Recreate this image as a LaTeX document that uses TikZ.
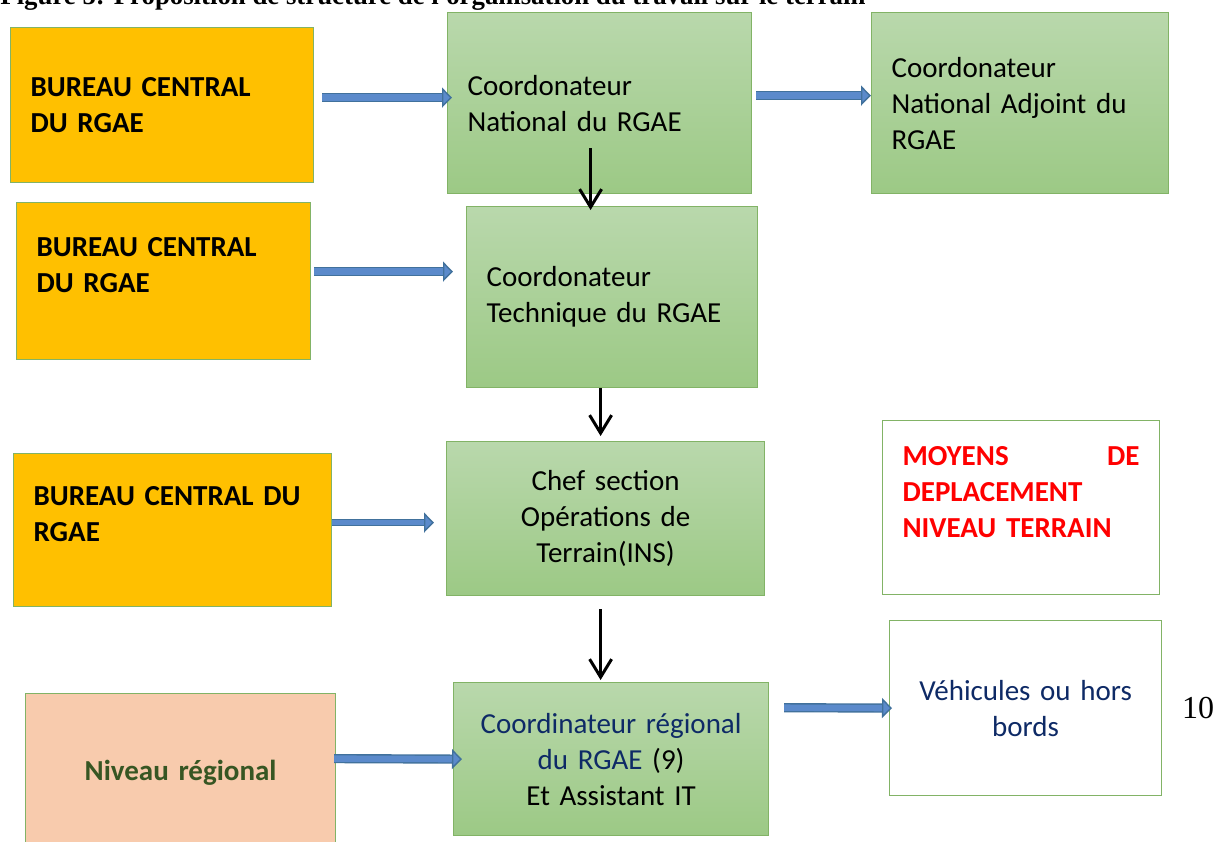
\documentclass[tikz,border=0pt]{standalone}
\usepackage{fontspec}
\setmainfont{Carlito}
\newfontfamily\timesfont{Liberation Serif}
\usetikzlibrary{positioning, arrows.meta}
\definecolor{boxEdge}{HTML}{82B366}
\definecolor{greenTop}{HTML}{B9D8AC}
\definecolor{greenBottom}{HTML}{9CC985}
\definecolor{bureauOrange}{HTML}{FFC000}
\definecolor{regionPeach}{HTML}{F8CBAD}
\definecolor{darkGreenText}{HTML}{375623}
\definecolor{darkBlueText}{HTML}{0E2A66}
\definecolor{blueFill}{HTML}{5B8ACB}
\definecolor{blueEdge}{HTML}{41719C}
\tikzstyle{boxbase} =[draw=boxEdge, line width=0.6pt, anchor=north west, inner xsep=10pt, inner ysep=0pt, font=\fontsize{14.5}{18}\selectfont]
\tikzstyle{greenbox} =[boxbase, top color=greenTop, bottom color=greenBottom]
\tikzstyle{bureaubox} =[boxbase, fill=bureauOrange, align=left, font=\fontsize{14.5}{18}\selectfont\bfseries]
\tikzstyle{whitebox} =[boxbase, fill=white]
\tikzstyle{blueArrow} =[draw=blueEdge, double=blueFill, line width=0.7pt, double distance=3.2pt, -{Triangle[length=5pt, width=10pt, fill=blueFill]}]
\tikzstyle{downArrow} =[line width=1.5pt, black, -{Straight Barb[length=9pt, width=11pt]}]

\begin{document}
\begin{tikzpicture}[x=0.5pt, y=-0.5pt]
\fill[white] (0,0) rectangle (1225,841);
\useasboundingbox (0,0) rectangle (1225,841);

\node (figTitle) [anchor=base west, inner sep=0pt, font=\timesfont\bfseries\fontsize{13.4}{16}\selectfont] at (0,4) {Figure 5: Proposition de structure de l'organisation du travail sur le terrain};

% first row
\node (bureauOne) [bureaubox, text width=131.5pt, minimum height=77.5pt] at (10,27) {BUREAU CENTRAL\\DU RGAE};
\node (coordNat) [greenbox, align=left, text width=132pt, minimum height=90.5pt] at (447,12) {Coordonateur\\National du RGAE};
\node (coordAdj) [greenbox, align=left, text width=128.5pt, minimum height=90.5pt] at (871,12) {Coordonateur\\National Adjoint du\\RGAE};

% second row
\node (bureauTwo) [bureaubox, text width=127pt, minimum height=78.5pt, text depth=34.5pt] at (16,202) {BUREAU CENTRAL\\DU RGAE};
\node (coordTech) [greenbox, align=left, text width=125.5pt, minimum height=90.5pt] at (466,206) {Coordonateur\\Technique du RGAE};

% third row
\node (bureauThree) [bureaubox, text width=139pt, minimum height=76.5pt, text depth=34.5pt] at (13,453) {BUREAU CENTRAL DU\\RGAE};
\node (chefSection) [greenbox, align=center, text width=139pt, minimum height=77pt] at (446,441) {Chef section\\Opérations de\\Terrain(INS)};
\node (moyens) [whitebox, align=left, text width=118.5pt, minimum height=87pt, text depth=52pt, text=red, font=\fontsize{14.5}{18}\selectfont\bfseries] at (882,420) {MOYENS\hfill DE\\DEPLACEMENT\\NIVEAU TERRAIN};

% regional level
\node (niveauReg) [boxbase, fill=regionPeach, align=center, text width=135pt, minimum height=79pt, text=darkGreenText, font=\fontsize{14.5}{18}\selectfont\bfseries] at (25,693) {Niveau régional};
\node (coordReg) [greenbox, align=center, text width=137.5pt, minimum height=76.5pt] at (453,682) {\textcolor{darkBlueText}{Coordinateur régional}\\\textcolor{darkBlueText}{du RGAE} (9)\\Et Assistant IT};
\node (vehicules) [whitebox, align=center, text width=116pt, minimum height=87.5pt, text=darkBlueText] at (889,620) {Véhicules ou hors\\bords};

\node (pageNum) [font=\timesfont\fontsize{16}{19}\selectfont] at (1198,708) {10};

% horizontal arrows
\draw[blueArrow, shorten <=4pt, shorten >=-2.5pt] ([yshift=3.75pt]bureauOne.east) -- ([yshift=2.75pt]coordNat.west);
\draw[blueArrow, shorten <=2pt] ([yshift=3.75pt]coordNat.east) -- ([yshift=3.75pt]coordAdj.west);
\draw[blueArrow, shorten <=1.5pt, shorten >=6.5pt] ([yshift=4.75pt]bureauTwo.east) -- ([yshift=12.75pt]coordTech.west);
\draw[blueArrow, double distance=2.2pt, shorten >=6pt] ([yshift=3.75pt]bureauThree.east) -- ([yshift=-2pt]chefSection.west);
\draw[blueArrow, shorten <=-1pt, shorten >=-4.5pt] ([yshift=7pt]niveauReg.east) -- (coordReg.west);
\draw[blueArrow, shorten <=7.5pt, shorten >=-1.5pt] ([yshift=25.75pt]coordReg.east) -- (vehicules.west);

% vertical arrows
\draw[downArrow, shorten <=-23pt, shorten >=-2pt] ([xshift=-4.5pt]coordNat.south) -- ([xshift=-10.75pt]coordTech.north);
\draw[downArrow, shorten >=2.5pt] ([xshift=-5.75pt]coordTech.south) -- ([xshift=-2.5pt]chefSection.north);
\draw[downArrow, shorten <=6.5pt, shorten >=1pt] ([xshift=-2.5pt]chefSection.south) -- ([xshift=-5.25pt]coordReg.north);

\end{tikzpicture}
\end{document}
